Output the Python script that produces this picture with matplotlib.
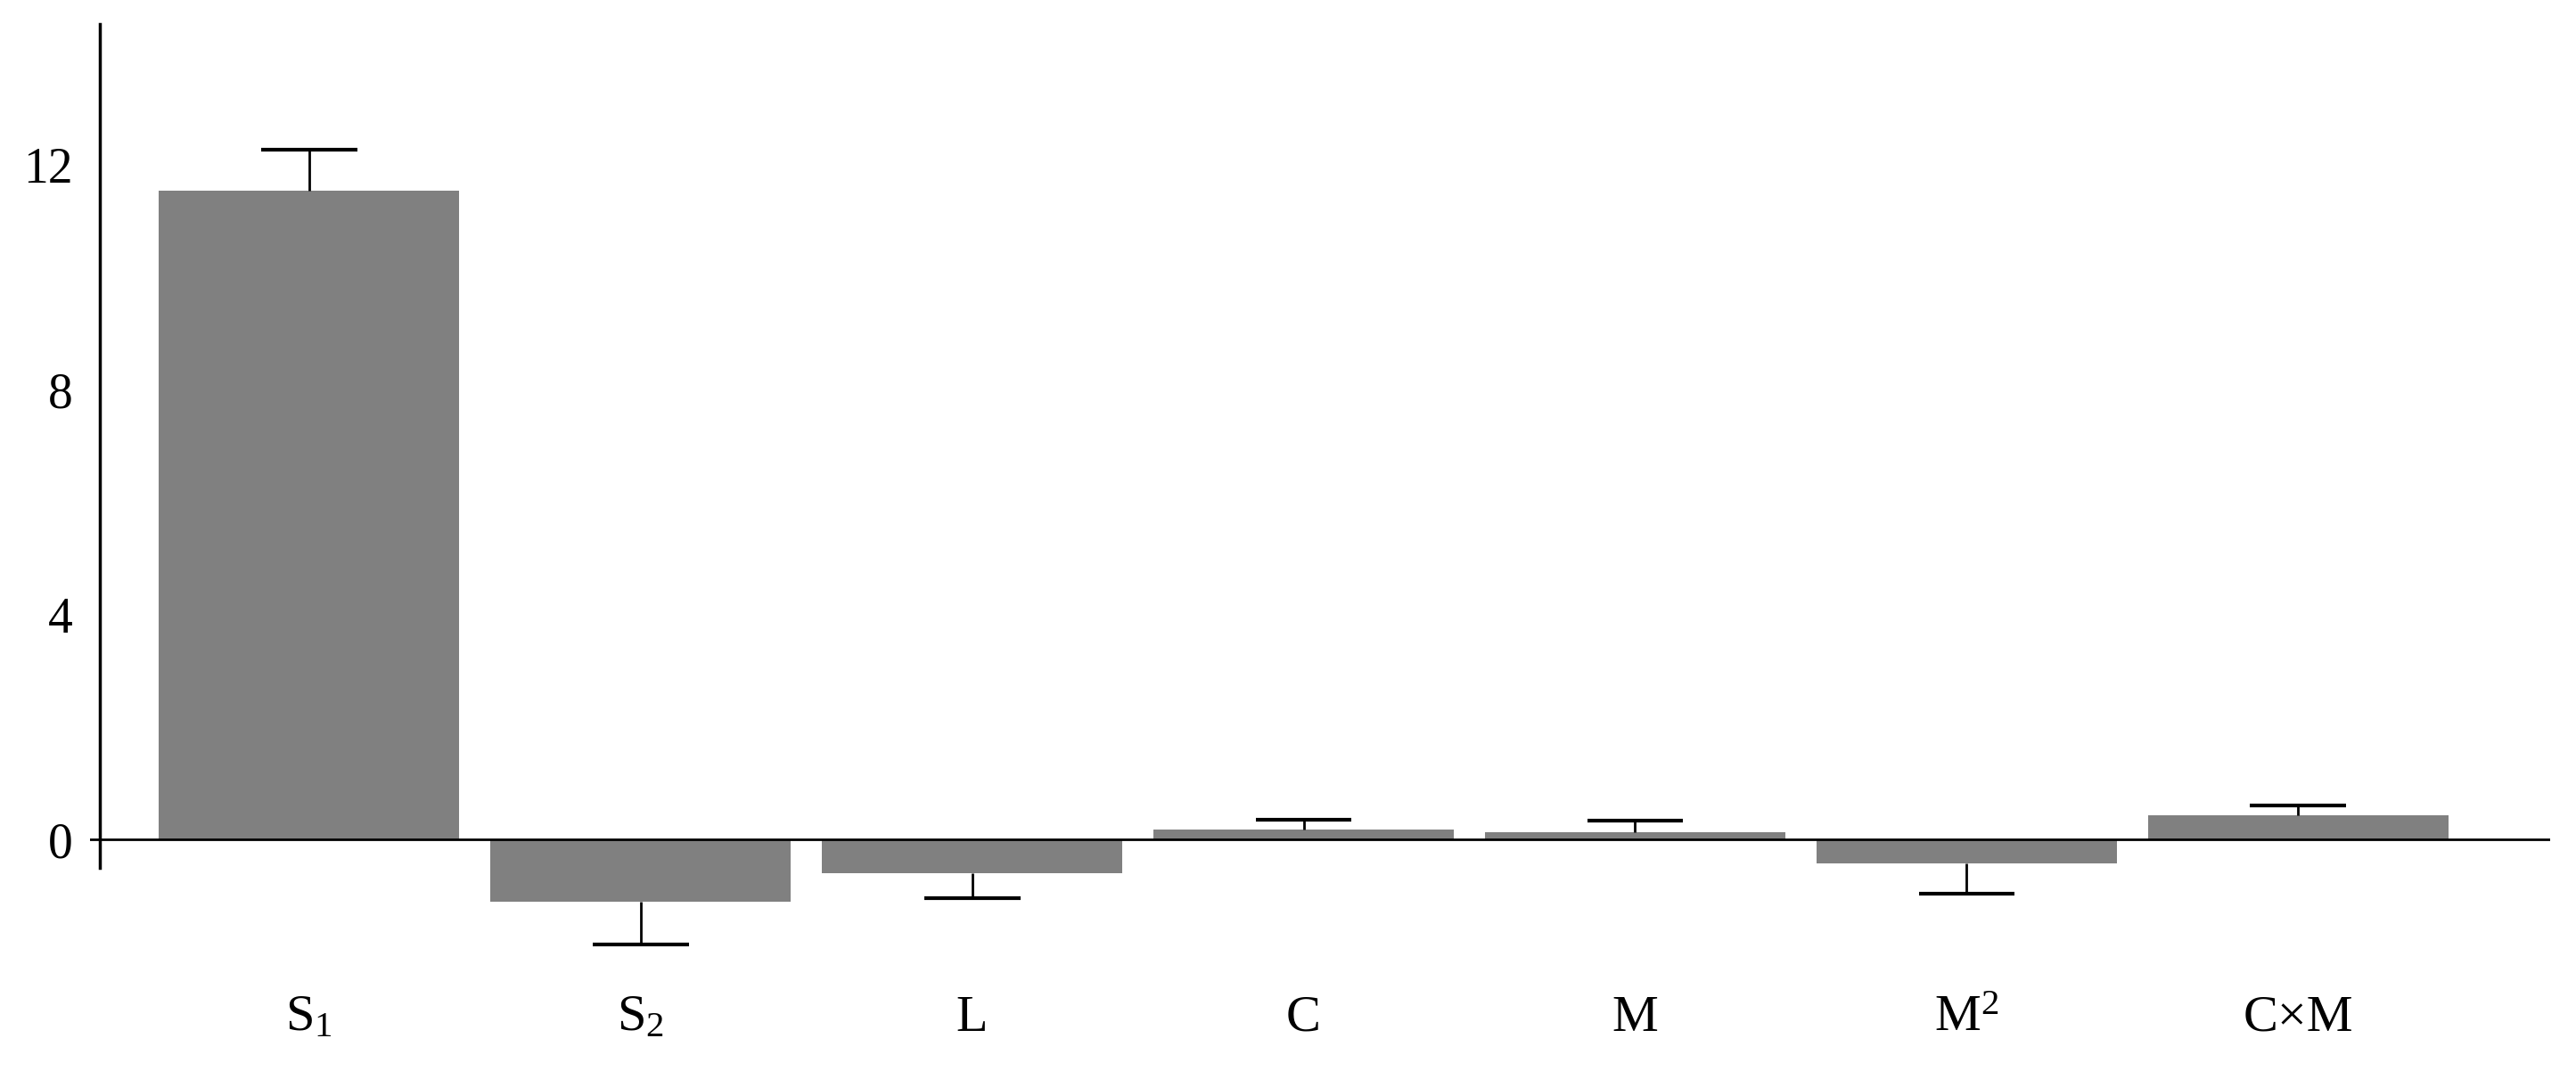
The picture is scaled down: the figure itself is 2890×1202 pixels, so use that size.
import numpy as np
import matplotlib
matplotlib.use("Agg")
import matplotlib.pyplot as plt

plt.rcParams['font.family'] = ['Liberation Serif', 'DejaVu Serif']
plt.rcParams['mathtext.fontset'] = 'custom'
plt.rcParams['mathtext.rm'] = 'Liberation Serif'
plt.rcParams['mathtext.it'] = 'Liberation Serif:italic'

# effect estimates and their errors
labels = ['S$_1$', 'S$_2$', 'L', 'C', 'M', 'M$^2$', 'C×M']
values = [11.53, -1.10, -0.59, 0.18, 0.14, -0.42, 0.44]
errors = [0.73, 0.77, 0.45, 0.18, 0.20, 0.54, 0.16]

fig = plt.figure(figsize=(28.9, 12.02), dpi=100)
ax = fig.add_axes([0.035, 0.1057, 0.955, 0.872])

x = np.arange(len(labels))
ax.bar(x, values, width=0.905, color='#808080', zorder=2)

# one-sided error bars: up for positive bars, down for negative ones
ends = [v + e if v >= 0 else v - e for v, e in zip(values, errors)]
cap = 0.145
ax.vlines(x, values, ends, color='black', lw=2, zorder=3)
ax.hlines(ends, x - cap, x + cap, color='black', lw=3, zorder=3)

ax.set_xlim(-0.66, 6.76)
ax.set_ylim(-2.1, 14.5)
ax.axhline(0, color='black', lw=2, zorder=4)

for s in ['top', 'right', 'bottom']:
    ax.spines[s].set_visible(False)
ax.spines['left'].set_position(('data', -0.63))
ax.spines['left'].set_bounds(-0.5, 14.5)
ax.spines['left'].set_linewidth(2.5)

ax.set_yticks([0, 4, 8, 12])
ax.set_xticks(x)
ax.set_xticklabels(labels)
ax.tick_params(axis='y', length=0, pad=22, labelsize=40)
ax.tick_params(axis='x', length=0, pad=30, labelsize=42)

plt.savefig('out.png', dpi=100)
